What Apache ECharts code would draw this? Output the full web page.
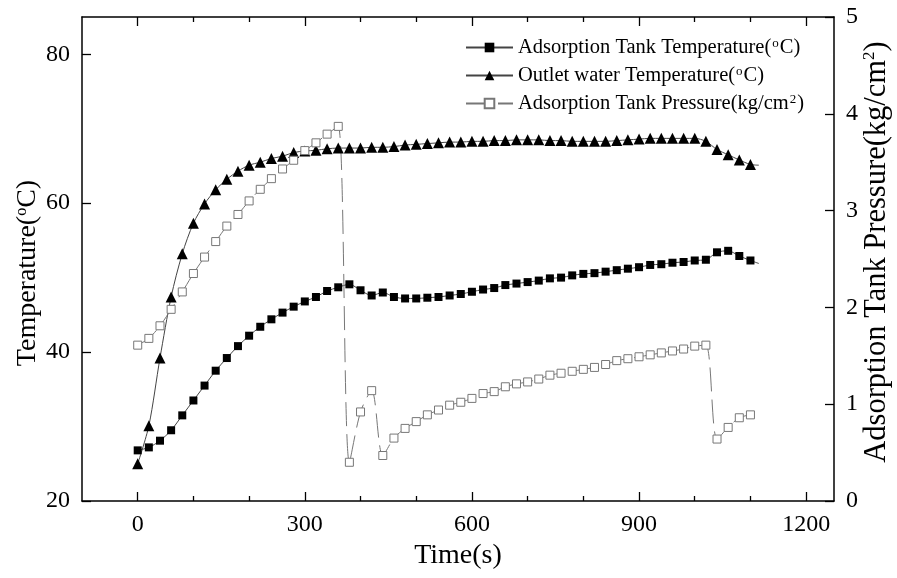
<!DOCTYPE html>
<html>
<head>
<meta charset="utf-8">
<script src="https://cdn.jsdelivr.net/npm/echarts@6/dist/echarts.min.js"></script>
<style>html,body{margin:0;padding:0;background:#fff}#c{width:897px;height:578px}</style>
</head>
<body>
<div id="c"></div>
<script>
// ---- data ----
var times = [0,20,40,60,80,100,120,140,160,180,200,220,240,260,280,300,320,340,360,380,400,420,440,460,480,500,520,540,560,580,600,620,640,660,680,700,720,740,760,780,800,820,840,860,880,900,920,940,960,980,1000,1020,1040,1060,1080,1100];
var tankTemp = [26.8,27.2,28.1,29.5,31.5,33.5,35.5,37.5,39.2,40.8,42.2,43.4,44.4,45.3,46.1,46.8,47.4,48.2,48.7,49.1,48.3,47.6,48.0,47.4,47.2,47.2,47.3,47.4,47.6,47.8,48.1,48.4,48.6,49.0,49.2,49.4,49.6,49.9,50.0,50.3,50.5,50.6,50.8,51.0,51.2,51.4,51.7,51.8,52.0,52.1,52.3,52.4,53.4,53.6,52.9,52.3];
var outletTemp = [25.0,30.1,39.2,47.4,53.2,57.3,59.9,61.8,63.2,64.3,65.1,65.5,66.0,66.3,66.8,67.0,67.1,67.3,67.4,67.4,67.4,67.5,67.5,67.6,67.8,67.9,68.0,68.1,68.2,68.2,68.3,68.3,68.4,68.4,68.5,68.5,68.5,68.4,68.4,68.3,68.3,68.3,68.3,68.4,68.5,68.6,68.7,68.7,68.7,68.7,68.7,68.3,67.2,66.5,65.8,65.2];
var tankPressure = [1.61,1.68,1.81,1.98,2.16,2.35,2.52,2.68,2.84,2.96,3.10,3.22,3.33,3.43,3.52,3.62,3.70,3.79,3.87,0.40,0.92,1.14,0.47,0.65,0.75,0.82,0.89,0.94,0.99,1.02,1.06,1.11,1.13,1.18,1.21,1.23,1.26,1.30,1.32,1.34,1.36,1.38,1.41,1.45,1.47,1.49,1.51,1.53,1.55,1.57,1.60,1.61,0.64,0.76,0.86,0.89];
// short line tails after the last markers
var tailTime = 1115;
var tankTempTail = 51.9;
var outletTempTail = 65.1;
// ticks
var xMajorTicks = [0,300,600,900,1200];
var xMinorTicks = [100,200,400,500,700,800,1000,1100];
var leftTicks = [20,40,60,80];
var rightTicks = [0,1,2,3,4,5];
var seriesNames = ['Adsorption Tank Temperature(°C)','Outlet water Temperature(°C)','Adsorption Tank Pressure(kg/cm2)'];

function pairs(vals, tail) {
  var out = times.map(function (t, i) { return [t, vals[i]]; });
  if (tail !== undefined) out.push({ value: [tailTime, tail], symbol: 'none' });
  return out;
}

var FONT = '"Liberation Serif","Times New Roman",serif';
var supStyle = { fontFamily: FONT, fontSize: 13, verticalAlign: 'top', lineHeight: 13, padding: [0, 1, 0, 1] };
var plain = function (v) { return String(v); };

function xAxisDef(pos, ticks, len, showLine, showLabel) {
  return {
    type: 'value', position: pos, min: -100, max: 1250,
    axisLine: { show: showLine, onZero: false, lineStyle: { color: '#000', width: 1.5 } },
    axisTick: { show: true, inside: true, length: len, customValues: ticks, lineStyle: { color: '#000', width: 1.3 } },
    axisLabel: { show: showLabel, customValues: xMajorTicks, formatter: plain, fontFamily: FONT, fontSize: 24, color: '#000', margin: 12 },
    splitLine: { show: false }
  };
}

var chart = echarts.init(document.getElementById('c'));
var xMain = xAxisDef('bottom', xMajorTicks, 9, true, true);
xMain.name = 'Time(s)';
xMain.nameLocation = 'middle';
xMain.nameGap = 38;
xMain.nameTextStyle = { fontFamily: FONT, fontSize: 28, color: '#000' };

chart.setOption({
  backgroundColor: '#fff',
  animation: false,
  grid: { left: 82, right: 63, top: 17, bottom: 77, containLabel: false, outerBoundsMode: 'none' },
  legend: {
    orient: 'vertical', left: 465, top: 37, padding: 0,
    itemWidth: 47, itemHeight: 12, itemGap: 7,
    data: seriesNames,
    formatter: function (n) {
      if (n === seriesNames[0]) return 'Adsorption Tank Temperature({sup|o}C)';
      if (n === seriesNames[1]) return 'Outlet water Temperature({sup|o}C)';
      return 'Adsorption Tank Pressure(kg/cm{sup|2})';
    },
    textStyle: { fontFamily: FONT, fontSize: 20.5, color: '#000', rich: { sup: supStyle } }
  },
  xAxis: [
    xMain,
    xAxisDef('bottom', xMinorTicks, 5, false, false),
    xAxisDef('top', xMajorTicks, 9, true, false),
    xAxisDef('top', xMinorTicks, 5, false, false)
  ],
  yAxis: [
    {
      type: 'value', position: 'left', min: 20, max: 85,
      name: 'Temperature({sup|o}C)', nameLocation: 'middle', nameGap: 40, nameRotate: 90, nameMoveOverlap: false,
      nameTextStyle: { fontFamily: FONT, fontSize: 28, color: '#000', padding: [0, 28, 0, 0], rich: { sup: { fontFamily: FONT, fontSize: 16, verticalAlign: 'top', lineHeight: 16 } } },
      axisLine: { show: true, onZero: false, lineStyle: { color: '#000', width: 1.5 } },
      axisTick: { show: true, inside: true, length: 9, customValues: leftTicks, lineStyle: { color: '#000', width: 1.3 } },
      axisLabel: { customValues: leftTicks, formatter: plain, fontFamily: FONT, fontSize: 24, color: '#000', margin: 12 },
      splitLine: { show: false }
    },
    {
      type: 'value', position: 'right', min: 0, max: 5,
      name: 'Adsorption Tank Pressure(kg/cm{sup|2})', nameLocation: 'middle', nameGap: 27, nameRotate: 90, nameMoveOverlap: false,
      nameTextStyle: { fontFamily: FONT, fontSize: 30.5, color: '#000', padding: [0, 0, 0, 14], rich: { sup: { fontFamily: FONT, fontSize: 17, verticalAlign: 'top', lineHeight: 17 } } },
      axisLine: { show: true, onZero: false, lineStyle: { color: '#000', width: 1.5 } },
      axisTick: { show: true, inside: true, length: 9, customValues: rightTicks, lineStyle: { color: '#000', width: 1.3 } },
      axisLabel: { customValues: rightTicks, formatter: plain, fontFamily: FONT, fontSize: 24, color: '#000', margin: 12 },
      splitLine: { show: false }
    }
  ],
  series: [
    {
      name: seriesNames[0], type: 'line', xAxisIndex: 0, yAxisIndex: 0, smooth: 0.3,
      data: pairs(tankTemp, tankTempTail),
      symbol: 'rect', symbolSize: 8,
      itemStyle: { color: '#000' },
      lineStyle: { color: '#444', width: 1 }
    },
    {
      name: seriesNames[1], type: 'line', xAxisIndex: 0, yAxisIndex: 0, smooth: 0.3,
      data: pairs(outletTemp, outletTempTail),
      symbol: 'triangle', symbolSize: 11,
      itemStyle: { color: '#000' },
      lineStyle: { color: '#444', width: 1 }
    },
    {
      name: seriesNames[2], type: 'line', xAxisIndex: 0, yAxisIndex: 1, smooth: 0.3,
      data: pairs(tankPressure),
      symbol: 'rect', symbolSize: 8,
      itemStyle: { color: '#fff', borderColor: '#777', borderWidth: 1 },
      lineStyle: { color: '#777', width: 1, type: [24, 8] }
    }
  ]
});
</script>
</body>
</html>
